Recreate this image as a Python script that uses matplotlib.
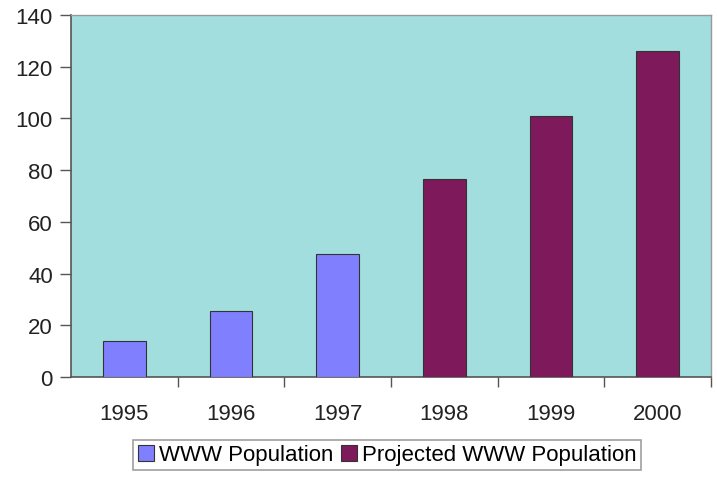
import matplotlib
matplotlib.use("Agg")
import matplotlib.pyplot as plt
from matplotlib.patches import Patch
from matplotlib.ticker import FixedLocator

years = ["1995", "1996", "1997", "1998", "1999", "2000"]
actual = [14, 25.5, 47.5, None, None, None]
projected = [None, None, None, 76.5, 101, 126]
y_ticks = [0, 20, 40, 60, 80, 100, 120, 140]

plt.rcParams["font.family"] = ["Liberation Sans", "DejaVu Sans"]

fig = plt.figure(figsize=(7.17, 4.81), dpi=100)
ax = fig.add_axes([71 / 717, 1 - 378 / 481, 640 / 717, 362 / 481])
ax.set_facecolor("#A3DEDE")

xs = list(range(len(years)))
blue = "#8080FF"
plum = "#7E1A5C"
for x, v in zip(xs, actual):
    if v is not None:
        ax.bar(x, v, width=0.4, color=blue, edgecolor="#333333", linewidth=0.8, zorder=3)
for x, v in zip(xs, projected):
    if v is not None:
        ax.bar(x, v, width=0.4, color=plum, edgecolor="#333333", linewidth=0.8, zorder=3)

ax.set_xlim(-0.5, len(years) - 0.5)
ax.set_ylim(0, 140)
ax.set_yticks(y_ticks)
ax.set_xticks(xs)
ax.set_xticklabels(years)
ax.xaxis.set_minor_locator(FixedLocator([i + 0.5 for i in range(len(years))]))

ax.tick_params(axis="x", which="major", length=0, pad=19, labelsize=16, colors="#222222")
ax.tick_params(axis="x", which="minor", length=7, width=1, color="#555555", direction="out")
ax.tick_params(axis="y", which="major", length=8, width=1, color="#555555", pad=5,
               labelsize=16, colors="#222222")
ax.tick_params(axis="y", colors="#555555", labelcolor="#222222")

for side in ("left", "bottom"):
    ax.spines[side].set_color("#555555")
    ax.spines[side].set_linewidth(1.2)
for side in ("top", "right"):
    ax.spines[side].set_color("#999999")
    ax.spines[side].set_linewidth(1.0)

handles = [Patch(facecolor=blue, edgecolor="#333333", linewidth=0.8),
           Patch(facecolor=plum, edgecolor="#333333", linewidth=0.8)]
leg = fig.legend(handles, ["WWW Population", "Projected WWW Population"],
                 loc="center", bbox_to_anchor=(387 / 717, 1 - 456 / 481),
                 ncol=2, fontsize=16, frameon=True, fancybox=False,
                 handlelength=0.75, handleheight=0.75, handletextpad=0.2,
                 columnspacing=0.35, borderpad=0.2, borderaxespad=0)
leg.get_frame().set_edgecolor("#888888")
leg.get_frame().set_linewidth(1.2)

fig.savefig("out.png", dpi=100)
